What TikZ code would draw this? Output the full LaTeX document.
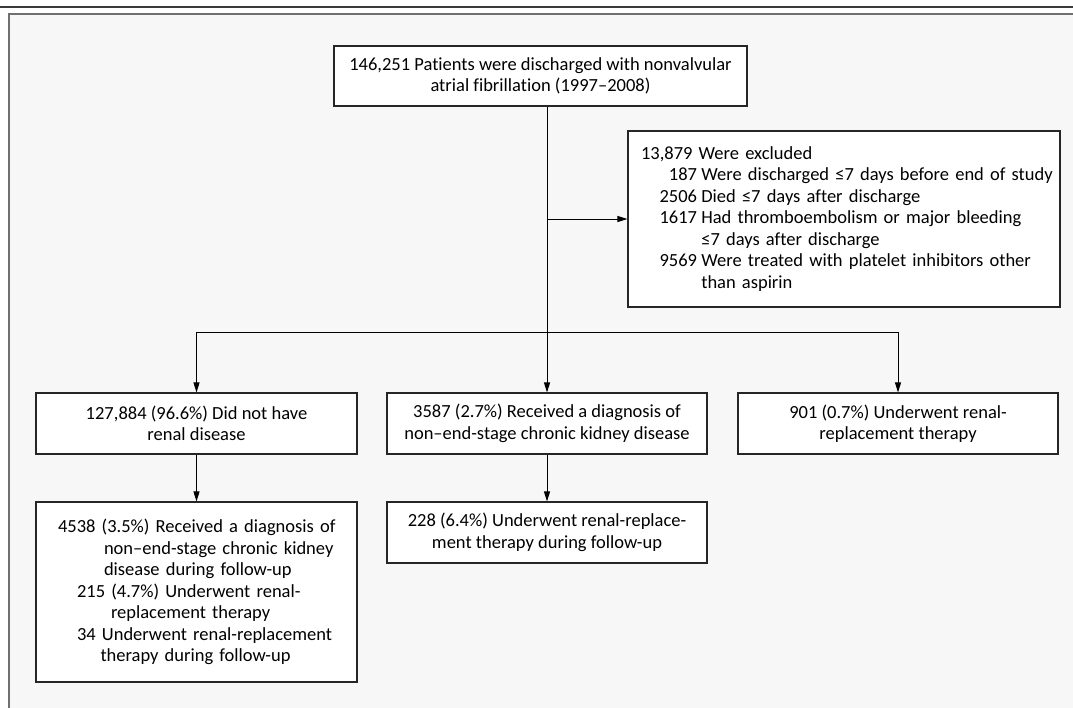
\documentclass[tikz,border=0pt]{standalone}
\usepackage{fontspec}
\setmainfont{Carlito}[Ligatures=NoCommon]
\usetikzlibrary{arrows.meta}
\definecolor{bgc}{HTML}{F7F7F7}
\definecolor{framec}{HTML}{707070}
\definecolor{topc}{HTML}{3A3A3A}
\definecolor{linec}{HTML}{262626}
\newcommand{\fs}{\fontsize{18.5}{21.5}\selectfont}
\newcommand{\exnum}[1]{\makebox[56pt][r]{#1}\hspace{4.3pt}}
\newcommand{\excont}{\hspace*{60.3pt}}
\begin{document}
\begin{tikzpicture}[x=1pt,y=-1pt,
  box/.style={draw=linec, line width=1.1pt, fill=white, inner sep=0pt, font=\fs, align=center},
  arr/.style={draw=black, line width=1pt, -{Triangle[length=10pt,width=6pt]}},
  ln/.style={draw=black, line width=1pt}]
\useasboundingbox (0,0) rectangle (1073,707);
\fill[white] (0,0) rectangle (1073,707);
\draw[draw=topc, line width=1.6pt] (0,7) -- (1073,7);
\draw[draw=framec, line width=2pt, fill=bgc] (9,14) rectangle (1095,730);

\node[box, minimum width=413pt, minimum height=60pt] (top) at (540.5,76)
  {146,251 Patients were discharged with nonvalvular\\atrial fibrillation (1997–2008)};

\node[box, minimum width=432pt, minimum height=176pt, text width=406pt, align=left] (excl) at (844,219)
  {13,879 Were excluded\\
   \mbox{\exnum{187}Were discharged ≤7 days before end of study}\\
   \mbox{\exnum{2506}Died ≤7 days after discharge}\\
   \mbox{\exnum{1617}Had thromboembolism or major bleeding}\\
   \excont ≤7 days after discharge\\
   \mbox{\exnum{9569}Were treated with platelet inhibitors other}\\
   \excont than aspirin};

\node[box, minimum width=321pt, minimum height=61pt] (b1) at (196.5,423.5)
  {127,884 (96.6\%) Did not have\\renal disease};
\node[box, minimum width=320pt, minimum height=61pt] (b2) at (547,423.5)
  {3587 (2.7\%) Received a diagnosis of\\non–end-stage chronic kidney disease};
\node[box, minimum width=320pt, minimum height=61pt] (b3) at (898,423.5)
  {901 (0.7\%) Underwent renal-\\replacement therapy};

\node[box, minimum width=321pt, minimum height=180pt, text width=321pt, align=left] (l1) at (196.5,592)
  {\mbox{\hspace*{22pt}4538 (3.5\%) Received a diagnosis of}\\
   \hspace*{68pt}non–end-stage chronic kidney\\
   \hspace*{68pt}disease during follow-up\\
   \hspace*{41pt}215 (4.7\%) Underwent renal-\\
   \hspace*{75pt}replacement therapy\\
   \mbox{\hspace*{41pt}34 Underwent renal-replacement}\\
   \hspace*{64.5pt}therapy during follow-up};
\node[box, minimum width=320pt, minimum height=61pt] (l2) at (547,532.5)
  {228 (6.4\%) Underwent renal-replace-\\ment therapy during follow-up};

\coordinate (br) at (547,332);
\draw[arr] (top.south -| b2.north) -- (b2.north);
\draw[arr] (excl.west -| b2.north) -- (excl.west);
\draw[ln] (b1.north |- br) -- (b3.north |- br);
\draw[arr] (b1.north |- br) -- (b1.north);
\draw[arr] (b3.north |- br) -- (b3.north);
\draw[arr] (b1.south) -- (l1.north);
\draw[arr] (b2.south) -- (l2.north);
\end{tikzpicture}
\end{document}
